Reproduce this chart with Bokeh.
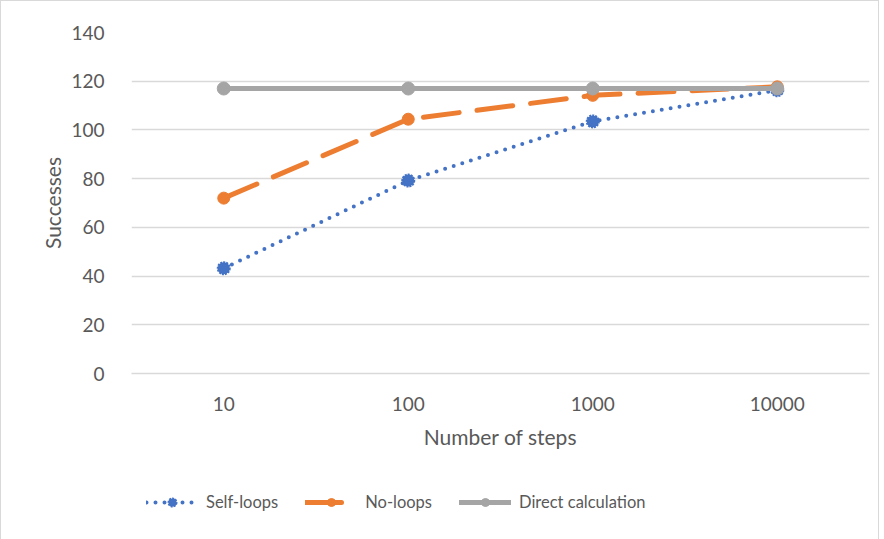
from bokeh.plotting import figure
from bokeh.models import FactorRange, Range1d, FixedTicker, Legend, LegendItem
from bokeh.layouts import column
from bokeh.embed import file_html
from bokeh.resources import INLINE

steps = ["10", "100", "1000", "10000"]
self_loops = [43.2, 79.2, 103.5, 116.3]
no_loops = [72.0, 104.4, 114.2, 117.7]
direct = [117.0, 117.0, 117.0, 117.0]
y_ticks = [0, 20, 40, 60, 80, 100, 120, 140]
series_names = ["Self-loops", "No-loops", "Direct calculation"]

FONT = "Lato"
TXT = "#595959"
GRID = "#D9D9D9"
BLUE = "#4472C4"
ORANGE = "#ED7D31"
GRAY = "#A5A5A5"

p = figure(width=877, height=470,
           x_range=FactorRange(*steps, range_padding=0),
           y_range=Range1d(0, 140),
           output_backend="svg", toolbar_location=None,
           min_border_left=130, min_border_right=9,
           min_border_top=31, min_border_bottom=98)
p.outline_line_color = None
p.xgrid.grid_line_color = None
p.ygrid.grid_line_color = GRID
p.ygrid.grid_line_width = 1.3
p.yaxis.ticker = FixedTicker(ticks=y_ticks)

for ax in (p.xaxis[0], p.yaxis[0]):
    ax.major_tick_line_color = None
    ax.minor_tick_line_color = None
    ax.major_label_text_font = FONT
    ax.major_label_text_font_size = "19px"
    ax.major_label_text_color = TXT
    ax.axis_label_text_font = FONT
    ax.axis_label_text_font_size = "21px"
    ax.axis_label_text_font_style = "normal"
    ax.axis_label_text_color = TXT
p.yaxis.axis_line_color = None
p.xaxis.axis_line_color = GRID
p.xaxis.axis_line_width = 1.3
p.yaxis.major_label_standoff = 21
p.xaxis.major_label_standoff = 17
p.yaxis.axis_label = "Successes"
p.xaxis.axis_label = "Number of steps"
p.yaxis.axis_label_standoff = 3
p.xaxis.axis_label_standoff = 10

styles = [
    dict(line=dict(line_color=BLUE, line_width=4, line_dash="0 9", line_cap="round"),
         mark=dict(marker="circle", size=12, fill_color=BLUE, line_color=BLUE, line_width=2, line_dash="2 1")),
    dict(line=dict(line_color=ORANGE, line_width=5, line_dash="36 18", line_cap="round"),
         mark=dict(marker="circle", size=12, fill_color=ORANGE, line_color=ORANGE)),
    dict(line=dict(line_color=GRAY, line_width=5, line_cap="round"),
         mark=dict(marker="circle", size=13, fill_color=GRAY, line_color=GRAY)),
]
all_series = [self_loops, no_loops, direct]
for vals, st in zip(all_series, styles):
    p.line(steps, vals, **st["line"])
    p.scatter(steps, vals, **st["mark"])

# legend strip below the chart: same series, drawn outside its visible y range
q = figure(width=877, height=68, output_backend="svg", toolbar_location=None,
           x_axis_type=None, y_axis_type=None,
           x_range=FactorRange(*steps, range_padding=0), y_range=Range1d(200, 201),
           min_border_left=0, min_border_right=0, min_border_top=0, min_border_bottom=0)
q.outline_line_color = None
items = []
for name, vals, st in zip(series_names, all_series, styles):
    lr = q.line(steps, vals, **st["line"])
    mr = q.scatter(steps, vals, **st["mark"])
    items.append(LegendItem(label=name, renderers=[lr, mr]))

legend = Legend(items=items, orientation="horizontal", location=(15, 27))
legend.label_text_font = FONT
legend.label_text_font_size = "16.5px"
legend.label_text_color = TXT
legend.glyph_width = 52
legend.glyph_height = 20
legend.label_standoff = 8
legend.spacing = 27
legend.padding = 5
legend.margin = 0
legend.border_line_color = None
legend.background_fill_alpha = 0
q.add_layout(legend, "center")

layout = column(p, q, spacing=0, styles={"border": "1px solid #D9D9D9"})
open("out.html", "w").write(file_html(layout, INLINE))
